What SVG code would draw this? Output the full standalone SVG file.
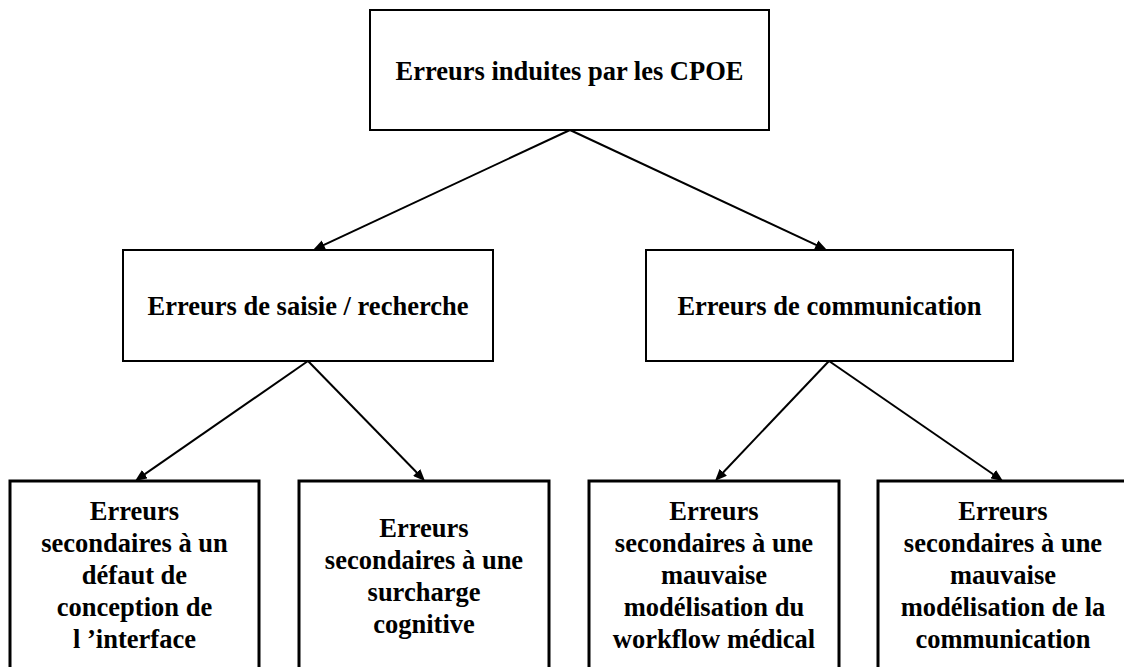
<svg xmlns="http://www.w3.org/2000/svg" width="1124" height="667" viewBox="0 0 1124 667">
<style>
.box{fill:#fff;stroke:#000;stroke-width:2}
.bbox{fill:#fff;stroke:#000;stroke-width:3}
.t{font-family:'Liberation Serif','Times New Roman',Times,Tinos,'Nimbus Roman','DejaVu Serif',serif;font-weight:bold;font-size:26.5px;fill:#000;text-anchor:middle}
.c{stroke:#000;stroke-width:2;fill:none;marker-end:url(#ah)}
</style>
<defs>
<marker id="ah" markerUnits="userSpaceOnUse" markerWidth="12" markerHeight="10" refX="4" refY="5" orient="auto">
<path d="M0,0 L12,5 L0,10 z" fill="#000"/>
</marker>
</defs>
<rect width="1124" height="667" fill="#fff"/>
<g id="connectors">
<line class="c" x1="570" y1="130" x2="320.25" y2="246.61"/>
<line class="c" x1="570" y1="130" x2="819.75" y2="246.61"/>
<line class="c" x1="308" y1="361" x2="141.58" y2="476.44"/>
<line class="c" x1="308" y1="361" x2="419.42" y2="475.27"/>
<line class="c" x1="829" y1="361" x2="720.51" y2="475.2"/>
<line class="c" x1="829" y1="361" x2="996.42" y2="476.46"/>
</g>
<g id="root">
<rect class="box" x="370" y="10" width="399" height="120"/>
<text class="t" x="569.5" y="80">Erreurs induites par les CPOE</text>
</g>
<g id="saisie">
<rect class="box" x="123" y="250" width="370" height="111"/>
<text class="t" x="308" y="315">Erreurs de saisie / recherche</text>
</g>
<g id="communication">
<rect class="box" x="646" y="250" width="367" height="111"/>
<text class="t" x="829.5" y="315">Erreurs de communication</text>
</g>
<g id="interface">
<rect class="bbox" x="10" y="481" width="249" height="190"/>
<text class="t" x="134.5" y="520">Erreurs<tspan x="134.5" dy="32">secondaires à un</tspan><tspan x="134.5" dy="32">défaut de</tspan><tspan x="134.5" dy="32">conception de</tspan><tspan x="134.5" dy="32">l ’interface</tspan></text>
</g>
<g id="surcharge">
<rect class="bbox" x="299" y="481" width="250" height="190"/>
<text class="t" x="424" y="537">Erreurs<tspan x="424" dy="32">secondaires à une</tspan><tspan x="424" dy="32">surcharge</tspan><tspan x="424" dy="32">cognitive</tspan></text>
</g>
<g id="workflow">
<rect class="bbox" x="589" y="481" width="250" height="190"/>
<text class="t" x="714" y="520">Erreurs<tspan x="714" dy="32">secondaires à une</tspan><tspan x="714" dy="32">mauvaise</tspan><tspan x="714" dy="32">modélisation du</tspan><tspan x="714" dy="32">workflow médical</tspan></text>
</g>
<g id="modcomm">
<rect class="bbox" x="878" y="481" width="250" height="190"/>
<text class="t" x="1003" y="520">Erreurs<tspan x="1003" dy="32">secondaires à une</tspan><tspan x="1003" dy="32">mauvaise</tspan><tspan x="1003" dy="32">modélisation de la</tspan><tspan x="1003" dy="32">communication</tspan></text>
</g>
</svg>
